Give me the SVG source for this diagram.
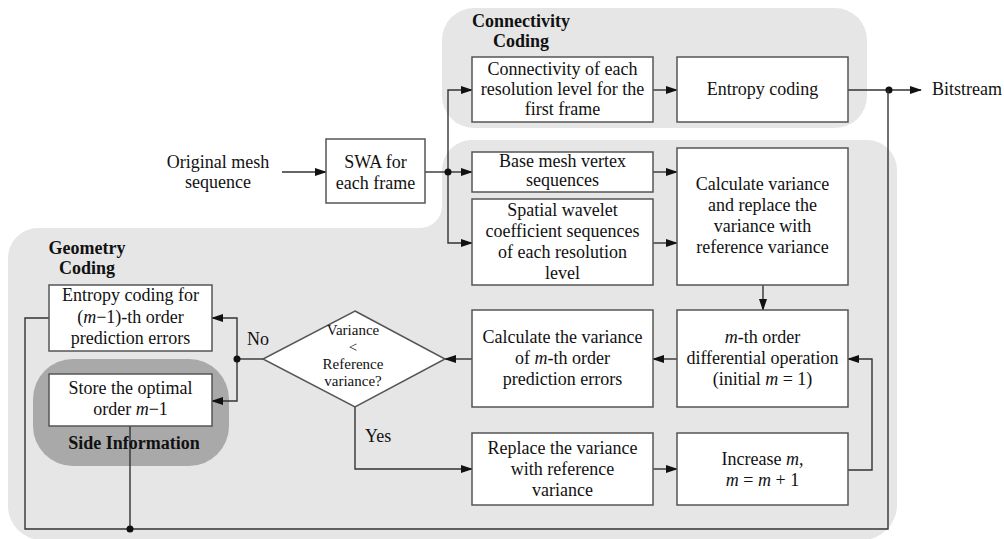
<svg xmlns="http://www.w3.org/2000/svg" width="1004" height="539" viewBox="0 0 1004 539" font-family="'Liberation Serif', 'Times New Roman', serif">
<style>
  text { font-family: "Liberation Serif", "Times New Roman", serif; font-size: 18px; fill: #111111; }
  .c { text-anchor: middle; }
  .b { font-weight: bold; }
  .i { font-style: italic; }
  .d { font-size: 15px; }
  .box { fill: #ffffff; stroke: #555555; stroke-width: 1.5; }
  .region { fill: #e6e6e6; }
  .side { fill: #a9a9a9; }
  .ln { fill: none; stroke: #333333; stroke-width: 1.4; }
  .ar { marker-end: url(#ah); }
  .dot { fill: #111111; }
</style>
<defs>
  <marker id="ah" markerWidth="12" markerHeight="8" refX="11" refY="4" orient="auto" markerUnits="userSpaceOnUse">
    <path d="M0,0 L12,4 L0,8 Z" fill="#111111"/>
  </marker>
</defs>
<rect width="1004" height="539" fill="#ffffff"/>

<g id="regions">
  <rect id="connectivity-region" class="region" x="442" y="8" width="425" height="120" rx="32" ry="32"/>
  <path id="geometry-region" class="region" d="M442 170 A30 30 0 0 1 472 140 L867 140 A30 30 0 0 1 897 170 L897 505 A35 35 0 0 1 862 540 L42 540 A34 34 0 0 1 8 506 L8 258 A30 30 0 0 1 38 228 L420 228 A22 22 0 0 0 442 206 Z"/>
  <rect id="side-region" class="side" x="33" y="359" width="196" height="107" rx="40" ry="40"/>
  <text class="b c" x="521" y="27">Connectivity</text>
  <text class="b c" x="521" y="47">Coding</text>
  <text class="b c" x="87" y="254">Geometry</text>
  <text class="b c" x="87" y="274">Coding</text>
</g>

<g id="connectors">
  <line class="ln ar" x1="282" y1="172" x2="326" y2="172"/>
  <line class="ln" x1="425" y1="172" x2="448" y2="172"/>
  <line class="ln ar" x1="448" y1="172" x2="472" y2="172"/>
  <polyline class="ln ar" points="448,172 448,90 472,90"/>
  <polyline class="ln ar" points="448,172 448,243 472,243"/>
  <circle class="dot" cx="448" cy="172" r="3.5"/>
  <line class="ln ar" x1="653" y1="90" x2="677" y2="90"/>
  <line class="ln ar" x1="848" y1="90" x2="921" y2="90"/>
  <circle class="dot" cx="889" cy="90" r="3.5"/>
  <line class="ln ar" x1="653" y1="172" x2="677" y2="172"/>
  <line class="ln ar" x1="653" y1="243" x2="677" y2="243"/>
  <line class="ln ar" x1="763" y1="285" x2="763" y2="310"/>
  <line class="ln ar" x1="677" y1="359" x2="653" y2="359"/>
  <line class="ln ar" x1="472" y1="359" x2="445" y2="359"/>
  <line class="ln" x1="263" y1="359" x2="237" y2="359"/>
  <polyline class="ln ar" points="237,359 237,318 212,318"/>
  <polyline class="ln ar" points="237,359 237,401 212,401"/>
  <circle class="dot" cx="237" cy="359" r="3.5"/>
  <polyline class="ln ar" points="355,407 355,469 472,469"/>
  <line class="ln ar" x1="653" y1="469" x2="677" y2="469"/>
  <polyline class="ln ar" points="848,470 872,470 872,359 848,359"/>
  <polyline class="ln" points="49,318 25,318 25,529 888,529 888,90"/>
  <line class="ln" x1="130" y1="426" x2="130" y2="529"/>
  <circle class="dot" cx="130" cy="529" r="3.5"/>
  <text x="247" y="345">No</text>
  <text x="365" y="442">Yes</text>
</g>

<g id="input">
  <text class="c" x="218" y="168">Original mesh</text>
  <text class="c" x="218" y="188">sequence</text>
</g>

<g id="swa">
  <rect class="box" x="326" y="139" width="99" height="64"/>
  <text class="c" x="375.5" y="168">SWA for</text>
  <text class="c" x="375.5" y="189">each frame</text>
</g>

<g id="connectivity">
  <rect class="box" x="472" y="57" width="181" height="65"/>
  <text class="c" x="562.5" y="75">Connectivity of each</text>
  <text class="c" x="562.5" y="95">resolution level for the</text>
  <text class="c" x="562.5" y="115">first frame</text>
</g>

<g id="entropy-coding">
  <rect class="box" x="677" y="57" width="171" height="65"/>
  <text class="c" x="762.5" y="95">Entropy coding</text>
</g>

<g id="bitstream">
  <text x="932" y="95">Bitstream</text>
</g>

<g id="base-mesh">
  <rect class="box" x="472" y="152" width="181" height="40"/>
  <text class="c" x="562.5" y="167">Base mesh vertex</text>
  <text class="c" x="562.5" y="186">sequences</text>
</g>

<g id="spatial-wavelet">
  <rect class="box" x="472" y="199" width="181" height="86"/>
  <text class="c" x="562.5" y="216">Spatial wavelet</text>
  <text class="c" x="562.5" y="237">coefficient sequences</text>
  <text class="c" x="562.5" y="258">of each resolution</text>
  <text class="c" x="562.5" y="279">level</text>
</g>

<g id="calc-variance">
  <rect class="box" x="677" y="148" width="171" height="137"/>
  <text class="c" x="762.5" y="190">Calculate variance</text>
  <text class="c" x="762.5" y="211">and replace the</text>
  <text class="c" x="762.5" y="232">variance with</text>
  <text class="c" x="762.5" y="253">reference variance</text>
</g>

<g id="mth-order">
  <rect class="box" x="677" y="310" width="171" height="97"/>
  <text class="c" x="762.5" y="343"><tspan class="i">m</tspan>-th order</text>
  <text class="c" x="762.5" y="364">differential operation</text>
  <text class="c" x="762.5" y="385">(initial <tspan class="i">m</tspan> = 1)</text>
</g>

<g id="calc-mth-variance">
  <rect class="box" x="472" y="310" width="181" height="97"/>
  <text class="c" x="562.5" y="343">Calculate the variance</text>
  <text class="c" x="562.5" y="364">of <tspan class="i">m</tspan>-th order</text>
  <text class="c" x="562.5" y="385">prediction errors</text>
</g>

<g id="decision">
  <polygon class="box" points="355,311 445,359 355,407 263,359"/>
  <text class="c d" x="353" y="335">Variance</text>
  <text class="c d" x="353" y="352">&lt;</text>
  <text class="c d" x="353" y="369">Reference</text>
  <text class="c d" x="353" y="386">variance?</text>
</g>

<g id="entropy-m1">
  <rect class="box" x="49" y="285" width="163" height="66"/>
  <text class="c" x="130.5" y="301">Entropy coding for</text>
  <text class="c" x="130.5" y="323">(<tspan class="i">m</tspan>−1)-th order</text>
  <text class="c" x="130.5" y="344">prediction errors</text>
</g>

<g id="store-order">
  <rect class="box" x="49" y="374" width="163" height="52"/>
  <text class="c" x="130.5" y="394">Store the optimal</text>
  <text class="c" x="130.5" y="415">order <tspan class="i">m</tspan>−1</text>
  <text class="b c" x="134" y="449">Side Information</text>
</g>

<g id="replace">
  <rect class="box" x="472" y="433" width="181" height="72"/>
  <text class="c" x="562.5" y="454">Replace the variance</text>
  <text class="c" x="562.5" y="475">with reference</text>
  <text class="c" x="562.5" y="496">variance</text>
</g>

<g id="increase">
  <rect class="box" x="677" y="433" width="171" height="72"/>
  <text class="c" x="762.5" y="465">Increase <tspan class="i">m</tspan>,</text>
  <text class="c" x="762.5" y="486"><tspan class="i">m</tspan> = <tspan class="i">m</tspan> + 1</text>
</g>
</svg>
